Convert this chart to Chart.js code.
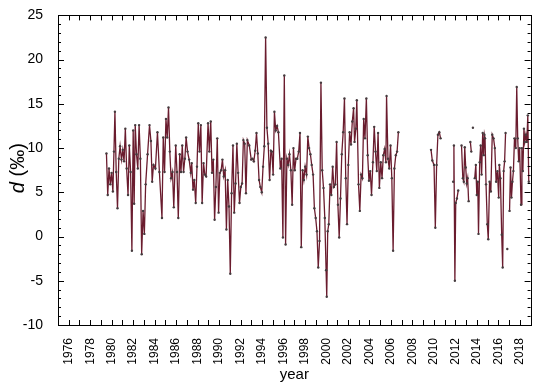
<!DOCTYPE html>
<html>
<head>
<meta charset="utf-8">
<script src="https://cdn.jsdelivr.net/npm/chart.js@4.4.1/dist/chart.umd.min.js"></script>
<style>
html,body{margin:0;padding:0;background:#fff}
</style>
</head>
<body>
<canvas id="chart" width="550" height="388"></canvas>
<script>
// d-excess series (null = gap in record)
const years = [
1979.51,1979.63,1979.75,1979.87,1979.99,1980.11,1980.21,1980.30,1980.42,1980.54,1980.66,1980.78,1980.91,
1981.03,1981.15,1981.27,1981.39,1981.52,1981.64,1981.76,1981.88,1982.00,1982.09,1982.19,1982.31,1982.43,
1982.55,1982.67,1982.79,1982.92,1983.04,1983.16,1983.34,1983.52,1983.65,1983.77,1983.89,1984.07,1984.26,
1984.44,1984.68,1984.80,1984.92,1985.05,1985.17,1985.29,1985.41,1985.53,1985.66,1985.78,1985.96,1986.08,
1986.20,1986.33,1986.45,1986.57,1986.69,1986.81,1986.93,1987.06,1987.21,1987.36,1987.45,1987.57,1987.69,
1987.82,1987.94,1988.06,1988.18,1988.30,1988.42,1988.55,1988.67,1988.79,1988.97,1989.09,1989.22,1989.34,
1989.46,1989.58,1989.70,1989.83,1989.95,1990.07,1990.19,1990.31,1990.43,1990.56,1990.68,1990.80,1990.92,
1991.04,1991.16,1991.29,1991.41,1991.53,1991.65,1991.77,1991.90,1992.02,1992.14,1992.26,1992.38,1992.50,
1992.63,1992.81,1992.99,1993.11,1993.23,1993.36,1993.48,1993.60,1993.72,1993.84,1993.97,1994.09,1994.21,
1994.33,1994.45,1994.57,1994.70,1994.82,1994.91,1995.03,1995.15,1995.27,1995.40,1995.52,1995.70,1995.82,
1995.94,1996.07,1996.19,1996.31,1996.43,1996.55,1996.68,1996.80,1996.92,1997.04,1997.16,1997.28,1997.41,
1997.53,1997.65,1997.77,1997.89,1998.01,1998.14,1998.26,1998.38,1998.50,1998.62,1998.75,1998.87,1998.99,
1999.11,1999.23,1999.35,1999.48,1999.60,1999.72,1999.84,1999.96,2000.02,2000.11,2000.21,2000.33,2000.45,
2000.57,2000.69,2000.82,2000.94,2001.06,2001.18,2001.30,2001.42,2001.55,2001.67,2001.79,2001.91,2002.03,
2002.15,2002.28,2002.40,2002.52,2002.61,2002.73,2002.82,2002.98,2003.10,2003.22,2003.34,2003.46,2003.58,
2003.71,2003.83,2003.95,2004.07,2004.19,2004.32,2004.44,2004.56,2004.68,2004.80,2004.92,2005.05,2005.17,
2005.29,2005.41,2005.53,2005.59,2005.72,2005.84,2005.96,2006.08,2006.20,2006.32,2006.45,2006.57,2006.69,
2008.00,
2009.73,2009.85,2010.01,2010.13,2010.25,2010.37,2010.50,2010.62,
2011.20,
2011.79,2011.86,2011.95,2012.03,2012.14,2012.26,
2012.40,
2012.57,2012.69,2012.78,2012.87,2012.96,2013.05,2013.14,2013.23,
2013.30,
2013.39,2013.48,
2013.55,
2013.63,
2013.72,
2013.80,2013.90,2013.99,2014.08,2014.15,2014.26,2014.35,2014.44,2014.54,2014.63,2014.70,2014.76,2014.85,
2014.97,2015.06,2015.18,2015.30,2015.43,2015.55,2015.67,2015.79,2015.91,2016.03,2016.09,2016.19,2016.31,
2016.40,2016.49,2016.58,2016.67,
2016.75,
2016.83,
2016.94,
2017.04,2017.13,2017.22,2017.31,2017.40,2017.50,2017.62,2017.71,2017.80,2017.89,2017.98,2018.11,2018.19,
2018.28,2018.38,2018.46,2018.56,2018.65,2018.74,2018.83
];

const dValues = [
9.4,4.7,7.7,5.9,7.2,5.1,9.6,14.1,7.3,3.2,8.8,10.2,8.7,
9.8,8.5,12.2,7.7,4.7,10.3,7.3,-1.6,12.0,3.7,12.6,9.3,7.7,
12.6,8.8,-2.0,2.9,0.3,5.9,9.3,12.6,10.8,6.2,8.1,7.7,11.8,
7.3,2.1,11.2,7.3,13.3,11.2,14.6,9.6,6.6,7.3,3.3,10.3,7.3,
2.1,9.3,7.3,10.3,7.3,8.8,11.2,9.6,8.7,7.2,8.3,5.3,6.4,
3.8,7.9,12.8,9.6,12.6,3.8,8.3,7.0,6.8,12.8,9.6,13.0,7.2,
8.7,1.9,5.6,11.1,2.7,7.2,7.5,8.7,6.8,7.5,0.8,6.4,3.4,
-4.2,4.9,10.3,2.7,6.0,10.5,7.2,3.8,5.6,6.0,10.9,10.5,4.9,
10.9,10.3,8.7,8.8,8.5,9.7,11.7,9.4,6.4,5.6,5.0,7.9,10.2,
22.5,12.3,10.5,6.4,9.7,9.6,7.0,14.1,12.0,12.5,11.8,7.7,8.8,
-0.1,18.2,-0.9,8.8,8.1,9.3,7.5,3.6,10.0,7.5,8.8,8.8,9.6,
11.7,-1.2,7.5,6.4,7.9,7.0,11.3,10.0,9.3,8.1,7.0,3.2,2.1,
0.6,-3.5,-0.5,17.4,7.5,5.5,2.1,-3.8,-6.8,0.6,1.4,5.9,4.7,
7.9,5.6,5.9,10.7,3.6,-0.1,4.3,9.3,11.8,15.6,6.6,1.4,8.1,
11.8,10.4,13.0,14.5,10.7,12.2,15.4,5.9,2.9,7.0,6.6,13.3,11.1,
15.6,9.2,6.3,7.4,4.7,8.4,12.4,9.6,7.4,11.7,5.5,8.4,6.6,
9.2,9.9,8.4,15.9,8.8,7.7,10.3,6.6,-1.6,7.7,9.2,9.6,11.8,
null,
9.8,8.6,8.1,1.0,8.1,11.5,11.8,11.1,
null,
6.2,10.3,-5.0,3.8,4.3,5.2,
null,
10.3,6.6,6.2,10.1,7.8,6.0,6.6,4.0,
null,
10.7,9.6,
null,
12.3,
null,
6.6,8.1,4.7,6.2,0.3,8.4,10.3,7.0,11.7,9.2,11.5,11.1,5.9,
1.4,-0.3,6.2,5.1,11.5,11.1,10.0,6.2,7.4,4.4,8.1,6.6,0.2,
-3.5,7.4,8.5,11.7,
null,
-1.4,
null,
2.9,7.8,4.4,6.2,7.4,11.1,10.0,16.9,11.1,8.5,10.0,3.6,10.0,
7.4,12.2,10.7,11.5,10.7,13.7,6.2
];

const yTicks = [-10, -5, 0, 5, 10, 15, 20, 25];
const lineColor = '#6a1c2e';
const pointColor = '#453b3e';

const frame = {
  id: 'frame',
  afterDatasetsDraw(chart) {
    const {ctx, chartArea, scales} = chart;
    const {left, right, top, bottom} = chartArea;
    ctx.save();
    ctx.strokeStyle = '#000';
    ctx.lineWidth = 1;
    ctx.strokeRect(Math.round(left) + 0.5, Math.round(top) + 0.5,
      Math.round(right - left), Math.round(bottom - top));
    ctx.beginPath();
    // year ticks, pointing inward on bottom and top
    for (let yr = 1975; yr <= 2019; yr++) {
      const px = Math.round(scales.x.getPixelForValue(yr)) + 0.5;
      ctx.moveTo(px, bottom); ctx.lineTo(px, bottom - 5);
      ctx.moveTo(px, top); ctx.lineTo(px, top + 5);
    }
    // y ticks every 1, longer at labelled values
    for (let v = -10; v <= 25; v++) {
      const py = Math.round(scales.y.getPixelForValue(v)) + 0.5;
      const len = v % 5 === 0 ? 6 : 3;
      ctx.moveTo(left, py); ctx.lineTo(left + len, py);
      ctx.moveTo(right, py); ctx.lineTo(right - len, py);
    }
    ctx.stroke();
    ctx.restore();
  },
  afterDraw(chart) {
    // y title with italic d
    const {ctx, chartArea} = chart;
    const cy = (chartArea.top + chartArea.bottom) / 2 - 2;
    const size = 20;
    ctx.save();
    ctx.translate(24, cy);
    ctx.rotate(-Math.PI / 2);
    ctx.fillStyle = '#000';
    ctx.textBaseline = 'alphabetic';
    ctx.font = 'italic ' + size + 'px "Liberation Sans", Arial, sans-serif';
    const w1 = ctx.measureText('d').width;
    ctx.font = size + 'px "Liberation Sans", Arial, sans-serif';
    const w2 = ctx.measureText(' (‰)').width;
    const x0 = -(w1 + w2) / 2;
    ctx.font = 'italic ' + size + 'px "Liberation Sans", Arial, sans-serif';
    ctx.fillText('d', x0, 0);
    ctx.font = size + 'px "Liberation Sans", Arial, sans-serif';
    ctx.fillText(' (‰)', x0 + w1, 0);
    ctx.restore();
  }
};

new Chart(document.getElementById('chart'), {
  type: 'line',
  data: {
    datasets: [{
      data: years.map((x, i) => ({x: x, y: dValues[i]})),
      borderColor: lineColor,
      borderWidth: 1.3,
      pointRadius: 1.2,
      pointBackgroundColor: pointColor,
      pointBorderWidth: 0,
      spanGaps: false,
      tension: 0
    }]
  },
  options: {
    responsive: false,
    animation: false,
    devicePixelRatio: 1,
    layout: {padding: {top: 12, right: 10, left: 0, bottom: 0}},
    plugins: {legend: {display: false}, tooltip: {enabled: false}},
    scales: {
      x: {
        type: 'linear',
        min: 1975,
        max: 2019,
        grid: {display: false},
        border: {display: false},
        ticks: {
          stepSize: 1,
          autoSkip: false,
          minRotation: 90,
          maxRotation: 90,
          padding: 5,
          color: '#000',
          font: {family: '"Liberation Sans", Arial, sans-serif', size: 12},
          callback: v => (v % 2 === 0 ? String(v) : '')
        },
        title: {
          display: true,
          text: 'year',
          color: '#000',
          font: {family: '"Liberation Sans", Arial, sans-serif', size: 15},
          padding: {top: 0, bottom: 4}
        },
        afterFit: s => { s.height = 63; }
      },
      y: {
        min: -10,
        max: 25,
        grid: {display: false},
        border: {display: false},
        afterBuildTicks: s => { s.ticks = yTicks.map(v => ({value: v})); },
        ticks: {
          padding: 7,
          color: '#000',
          font: {family: '"Liberation Sans", Arial, sans-serif', size: 14}
        },
        afterFit: s => { s.width = 58; }
      }
    }
  },
  plugins: [frame]
});
</script>
</body>
</html>
